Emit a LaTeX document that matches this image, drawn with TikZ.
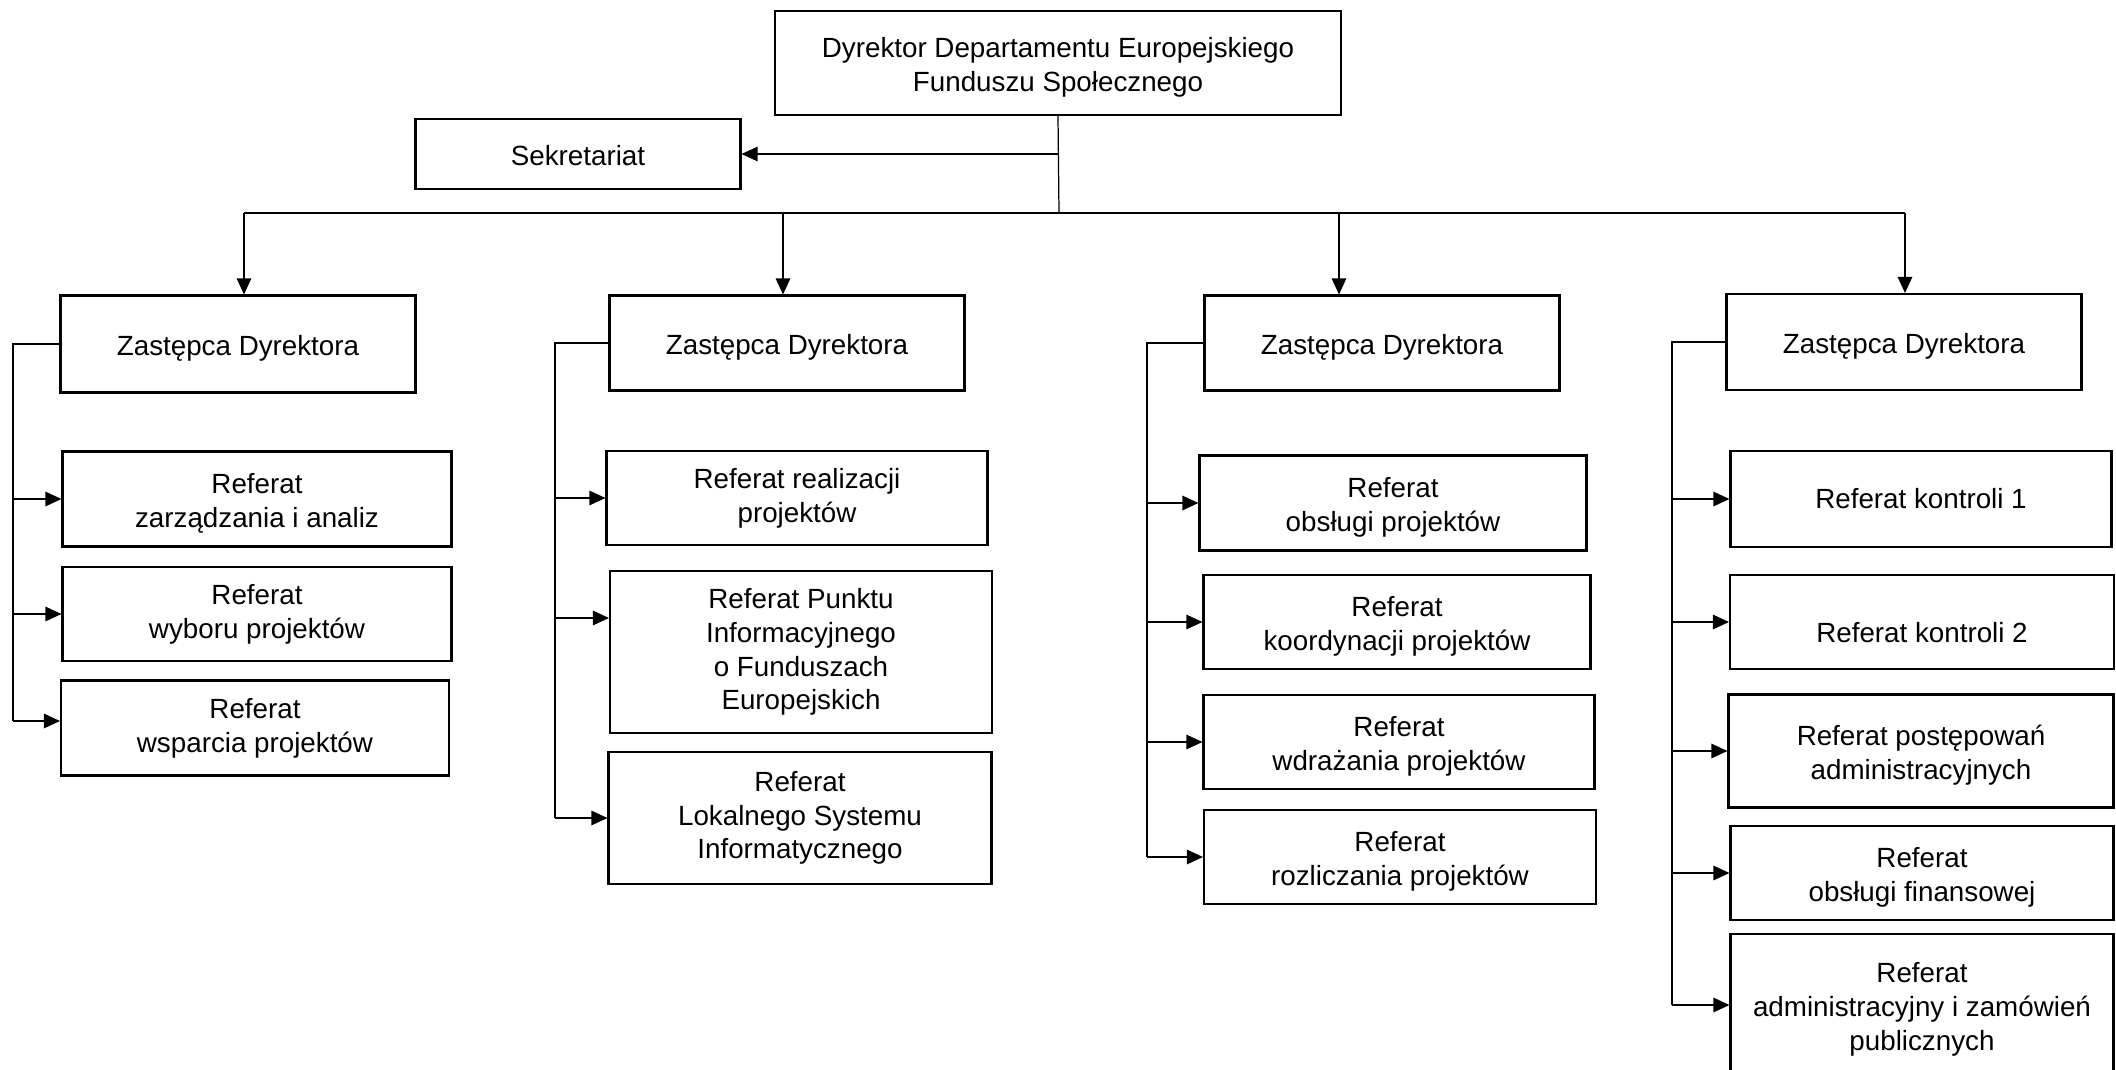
\documentclass[tikz,border=0pt]{standalone}
\usepackage{fontspec}
\setmainfont{Liberation Sans}
\usetikzlibrary{arrows.meta}
\newcommand{\txtdrop}{\rule{0pt}{2.85mm}}
\begin{document}
\begin{tikzpicture}[x=0.1mm, y=-0.1mm,
  box/.style={shape=rectangle, draw=black, line width=0.6pt, align=center, inner sep=0pt, font=\fontsize{7.9pt}{9.6pt}\selectfont},
  conn/.style={-, line width=0.35pt, draw=black},
  arr/.style={-{Triangle[length=1.6mm,width=1.45mm]}, line width=0.35pt, draw=black}]
\useasboundingbox (0,0) rectangle (2116,1070);
\node[box, minimum width=56.6mm, minimum height=10.4mm] (dyr) at (1058,63) {\txtdrop Dyrektor Departamentu Europejskiego\\Funduszu Społecznego};
\node[box, minimum width=32.5mm, minimum height=7mm] (sek) at (578,154) {\rule{0pt}{2.4mm}Sekretariat};
\node[box, minimum width=35.5mm, minimum height=9.7mm] (z1) at (238,344) {\txtdrop Zastępca Dyrektora};
\node[box, minimum width=35.5mm, minimum height=9.5mm] (z2) at (787,343) {\txtdrop Zastępca Dyrektora};
\node[box, minimum width=35.5mm, minimum height=9.5mm] (z3) at (1382,343) {\txtdrop Zastępca Dyrektora};
\node[box, minimum width=35.5mm, minimum height=9.6mm] (z4) at (1904,342) {\txtdrop Zastępca Dyrektora};
\node[box, minimum width=38.9mm, minimum height=9.5mm] (r11) at (257,499) {\txtdrop Referat\\zarządzania i analiz};
\node[box, minimum width=38.9mm, minimum height=9.4mm] (r12) at (257,614) {Referat\\wyboru projektów};
\node[box, minimum width=38.8mm, minimum height=9.5mm] (r13) at (255,728) {Referat\\wsparcia projektów};
\node[box, minimum width=38.1mm, minimum height=9.4mm] (r21) at (797,498) {Referat realizacji\\projektów};
\node[box, minimum width=38.2mm, minimum height=16.2mm] (r22) at (801,652) {Referat Punktu\\Informacyjnego\\o Funduszach\\Europejskich};
\node[box, minimum width=38.3mm, minimum height=13.2mm] (r23) at (800,818) {Referat\\Lokalnego Systemu\\Informatycznego};
\node[box, minimum width=38.7mm, minimum height=9.5mm] (r31) at (1393,503) {\txtdrop Referat\\obsługi projektów};
\node[box, minimum width=38.7mm, minimum height=9.4mm] (r32) at (1397,622) {\txtdrop Referat\\koordynacji projektów};
\node[box, minimum width=39.1mm, minimum height=9.4mm] (r33) at (1399,742) {\txtdrop Referat\\wdrażania projektów};
\node[box, minimum width=39.2mm, minimum height=9.4mm] (r34) at (1400,857) {\txtdrop Referat\\rozliczania projektów};
\node[box, minimum width=38.1mm, minimum height=9.6mm] (r41) at (1921,499) {Referat kontroli 1};
\node[box, minimum width=38.4mm, minimum height=9.4mm, text height=4mm, text depth=0pt] (r42) at (1922,622) {Referat kontroli 2};
\node[box, minimum width=38.5mm, minimum height=11.3mm] (r43) at (1921,751) {\txtdrop Referat postępowań\\administracyjnych};
\node[box, minimum width=38.3mm, minimum height=9.4mm] (r44) at (1922,873) {\txtdrop Referat\\obsługi finansowej};
\node[box, minimum width=38.3mm, minimum height=14.2mm] (r45) at (1922,1005) {\txtdrop Referat\\administracyjny i zamówień\\publicznych};
\coordinate (bus) at (1059,213);
\coordinate (t1) at (244,213);
\coordinate (t2) at (783,213);
\coordinate (t3) at (1339,213);
\coordinate (t4) at (1905,213);
\coordinate (s1) at (13,0);
\coordinate (s2) at (555,0);
\coordinate (s3) at (1147,0);
\coordinate (s4) at (1672,0);
\coordinate (r13in) at ([yshift=0.7mm]r13.west);
\coordinate (r22in) at ([yshift=3.4mm]r22.west);
\draw[conn] (dyr.south) -- (bus);
\draw[arr] (dyr.south |- sek.east) -- (sek.east);
\draw[conn] (t1) -- (t4);
\draw[arr] (t1) -- (t1 |- z1.north);
\draw[arr] (t2) -- (t2 |- z2.north);
\draw[arr] (t3) -- (t3 |- z3.north);
\draw[arr] (t4) -- (t4 |- z4.north);
\draw[conn] (z1.west) -- (z1.west -| s1) -- (r13in -| s1);
\draw[conn] (z2.west) -- (z2.west -| s2) -- (r23.west -| s2);
\draw[conn] (z3.west) -- (z3.west -| s3) -- (r34.west -| s3);
\draw[conn] (z4.west) -- (z4.west -| s4) -- (r45.west -| s4);
\foreach \r in {r11,r12}
  \draw[arr] (\r.west -| s1) -- (\r.west);
\draw[arr] (r13in -| s1) -- (r13in);
\foreach \r in {r21,r23}
  \draw[arr] (\r.west -| s2) -- (\r.west);
\draw[arr] (r22in -| s2) -- (r22in);
\foreach \r in {r31,r32,r33,r34}
  \draw[arr] (\r.west -| s3) -- (\r.west);
\foreach \r in {r41,r42,r43,r44,r45}
  \draw[arr] (\r.west -| s4) -- (\r.west);
\end{tikzpicture}
\end{document}
